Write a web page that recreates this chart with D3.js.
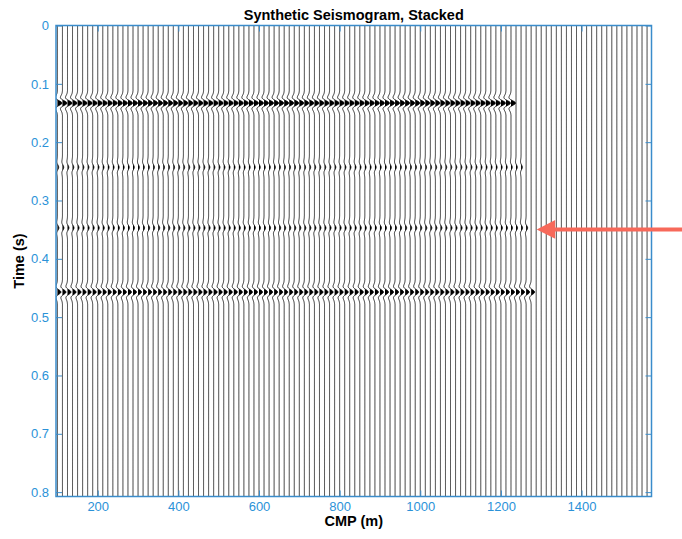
<!DOCTYPE html>
<html>
<head>
<meta charset="utf-8">
<script src="https://cdn.jsdelivr.net/npm/d3@7"></script>
<style>
  body { margin: 0; background: #fff; }
  svg { display: block; }
  text { font-family: "Liberation Sans", Arial, Helvetica, sans-serif; }
</style>
</head>
<body>
<svg id="chart" width="682" height="539"></svg>
<script>
// ---- data ---------------------------------------------------------------
// Stacked CMP gathers: one trace every 12.5 m
const cmpStart = 100;
const cmpStep = 12.5;
const cmpCount = 118;
const cmps = d3.range(cmpCount).map(i => cmpStart + i * cmpStep);

// Reflectors: two-way time (s), relative amplitude, last CMP where present (m)
const reflectorTimes = [0.133, 0.243, 0.347, 0.457];
const reflectorAmps  = [0.9, 0.25, 0.3, 0.7];
const reflectorLastCmp = [1225, 1250, 1262.5, 1275];

// Zero-phase wavelet sampled every 1 ms, lags -20 ms .. +20 ms
const waveletDt = 0.001;
const waveletSamples = [
  -0.0210, -0.0348, -0.0554, -0.0847, -0.1243, -0.1748, -0.2349, -0.3007,
  -0.3651, -0.4175, -0.4449, -0.4337, -0.3718, -0.2526, -0.0776, 0.1418,
   0.3842,  0.6209,  0.8202,  0.9533,  1.0000, 0.9533, 0.8202, 0.6209,
   0.3842,  0.1418, -0.0776, -0.2526, -0.3718, -0.4337, -0.4449, -0.4175,
  -0.3651, -0.3007, -0.2349, -0.1748, -0.1243, -0.0847, -0.0554, -0.0348,
  -0.0210
];

// Record length and axis ticks
const timeMax = 0.8075;
const timeTicks = [0, 0.1, 0.2, 0.3, 0.4, 0.5, 0.6, 0.7, 0.8];
const cmpTicks = [200, 400, 600, 800, 1000, 1200, 1400];
const cmpDomain = [96.5, 1573.5];

// ---- layout -------------------------------------------------------------
const svg = d3.select("#chart");
const plot = { left: 56, right: 651.5, top: 25.5, bottom: 496.5 };
const axisColor = "#3a8ccb";
const labelColor = "#2b92d8";

const x = d3.scaleLinear().domain(cmpDomain).range([plot.left, plot.right]);
const y = d3.scaleLinear().domain([0, timeMax]).range([plot.top, plot.bottom]);

// one amplitude unit spans one trace spacing
const gain = x(cmpStep) - x(0);

// ---- build traces (reflectivity convolved with wavelet) ----------------
const nSamples = Math.round(timeMax / waveletDt) + 1;
const halfW = (waveletSamples.length - 1) / 2;

function buildTrace(cmp) {
  const vals = new Array(nSamples).fill(0);
  reflectorTimes.forEach((t0, r) => {
    if (cmp > reflectorLastCmp[r]) return;
    const c = Math.round(t0 / waveletDt);
    for (let k = -halfW; k <= halfW; k++) {
      const i = c + k;
      if (i >= 0 && i < nSamples) vals[i] += reflectorAmps[r] * waveletSamples[k + halfW];
    }
  });
  return vals.map((v, i) => ({ t: i * waveletDt, v }));
}

const traces = cmps.map(cmp => ({ cmp, samples: buildTrace(cmp) }));

svg.append("defs").append("clipPath").attr("id", "plotClip")
  .append("rect")
  .attr("x", plot.left).attr("y", plot.top)
  .attr("width", plot.right - plot.left).attr("height", plot.bottom - plot.top);

const traceG = svg.append("g").attr("clip-path", "url(#plotClip)");

traces.forEach(tr => {
  const base = x(tr.cmp);
  const area = d3.area()
    .y(d => y(d.t))
    .x0(base)
    .x1(d => base + Math.max(0, d.v) * gain)
    .curve(d3.curveMonotoneY);
  const line = d3.line()
    .y(d => y(d.t))
    .x(d => base + d.v * gain)
    .curve(d3.curveMonotoneY);
  traceG.append("path")
    .attr("d", area(tr.samples))
    .attr("fill", "#000")
    .attr("stroke", "none");
  traceG.append("path")
    .attr("d", line(tr.samples))
    .attr("fill", "none")
    .attr("stroke", "#000")
    .attr("stroke-width", 0.8);
});

// ---- axes ---------------------------------------------------------------
const tickLen = 6;

function styleAxis(g) {
  g.select(".domain").remove();
  g.selectAll(".tick line").attr("stroke", axisColor).attr("stroke-width", 1);
  g.selectAll(".tick text")
    .attr("fill", labelColor)
    .attr("font-size", 13)
    .attr("font-family", "'Liberation Sans', Arial, Helvetica, sans-serif");
}

svg.append("g")
  .attr("transform", `translate(0,${plot.bottom})`)
  .call(d3.axisBottom(x).tickValues(cmpTicks).tickSize(-tickLen).tickPadding(5)
    .tickFormat(d3.format("d")))
  .call(styleAxis);

svg.append("g")
  .attr("transform", `translate(0,${plot.top})`)
  .call(d3.axisTop(x).tickValues(cmpTicks).tickSize(-tickLen).tickFormat(""))
  .call(styleAxis);

svg.append("g")
  .attr("transform", `translate(${plot.left},0)`)
  .call(d3.axisLeft(y).tickValues(timeTicks).tickSize(-tickLen).tickPadding(7)
    .tickFormat(d => d === 0 ? "0" : d3.format(".1f")(d)))
  .call(styleAxis);

svg.append("g")
  .attr("transform", `translate(${plot.right},0)`)
  .call(d3.axisRight(y).tickValues(timeTicks).tickSize(-tickLen).tickFormat(""))
  .call(styleAxis);

svg.append("rect")
  .attr("x", plot.left).attr("y", plot.top)
  .attr("width", plot.right - plot.left).attr("height", plot.bottom - plot.top)
  .attr("fill", "none")
  .attr("stroke", axisColor)
  .attr("stroke-width", 1.5);

// ---- titles -------------------------------------------------------------
svg.append("text")
  .attr("x", (plot.left + plot.right) / 2).attr("y", 20)
  .attr("text-anchor", "middle")
  .attr("font-size", 14.5).attr("font-weight", "bold").attr("fill", "#000")
  .text("Synthetic Seismogram, Stacked");

svg.append("text")
  .attr("x", (plot.left + plot.right) / 2).attr("y", 526)
  .attr("text-anchor", "middle")
  .attr("font-size", 14.5).attr("font-weight", "bold").attr("fill", "#000")
  .text("CMP (m)");

svg.append("text")
  .attr("transform", `translate(23.5,${(plot.top + plot.bottom) / 2}) rotate(-90)`)
  .attr("text-anchor", "middle")
  .attr("font-size", 14.5).attr("font-weight", "bold").attr("fill", "#000")
  .text("Time (s)");

// ---- annotation arrow pointing at the third reflector's edge -----------
const arrowColor = "#f7695a";
const arrowY = y(reflectorTimes[2]) + 1.5;
const arrowTip = 536.7;
svg.append("line")
  .attr("x1", 684).attr("x2", arrowTip + 16)
  .attr("y1", arrowY).attr("y2", arrowY)
  .attr("stroke", arrowColor).attr("stroke-width", 4);
svg.append("path")
  .attr("d", `M${arrowTip},${arrowY} L${arrowTip + 18.5},${arrowY - 9.3} L${arrowTip + 18.5},${arrowY + 9.3} Z`)
  .attr("fill", arrowColor);
</script>
</body>
</html>
